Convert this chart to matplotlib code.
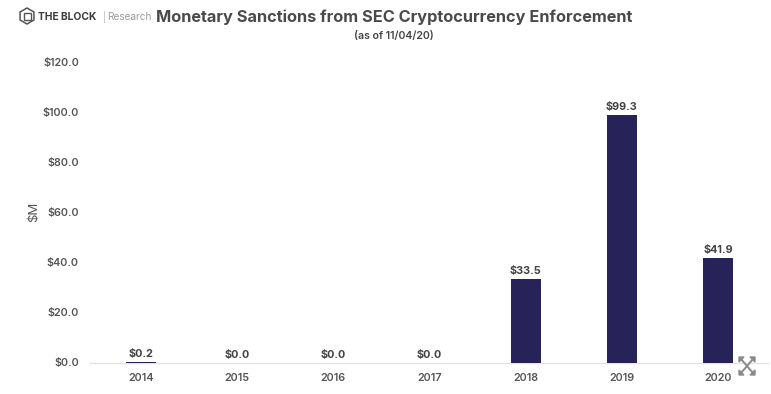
import numpy as np
import matplotlib
matplotlib.use('Agg')
import matplotlib.pyplot as plt
from matplotlib.lines import Line2D
from matplotlib.patches import RegularPolygon, Rectangle
from matplotlib.transforms import ScaledTranslation

ar_st_years = ['2014', '2015', '2016', '2017', '2018', '2019', '2020']
ar_fl_sanctions = [0.2, 0.0, 0.0, 0.0, 33.5, 99.3, 41.9]
ar_fl_yticks = [0, 20, 40, 60, 80, 100, 120]

plt.rcParams['font.family'] = ['Inter', 'DejaVu Sans']

W, H = 771, 394
fig = plt.figure(figsize=(W / 100, H / 100), dpi=100, facecolor='white')
ax = fig.add_axes([90 / W, 1 - 362.6 / H, (768 - 90) / W, 299.6 / H])

ar_it_x = np.arange(len(ar_st_years))
bars = ax.bar(ar_it_x, ar_fl_sanctions, width=0.31, color='#272257', zorder=3)
for x, v in zip(ar_it_x, ar_fl_sanctions):
    ax.text(x, v + 1.2, f'${v:.1f}', ha='center', va='bottom',
            fontsize=7.8, fontweight='bold', color='#444444')

# Axes
ax.set_xlim(-0.53, 6.52)
ax.set_ylim(0, 120)
ax.set_xticks(ar_it_x)
ax.set_xticklabels(ar_st_years, fontsize=7.8, fontweight='semibold', color='#555555')
ax.set_yticks(ar_fl_yticks)
ax.set_yticklabels([f'${v:.1f}' for v in ar_fl_yticks], fontsize=7.8,
                   fontweight='semibold', color='#555555')
ax.tick_params(axis='both', length=0)
ax.tick_params(axis='x', pad=7.3)
ax.tick_params(axis='y', pad=8)
# Tick labels sit one pixel above the bar scale
tr_up = ScaledTranslation(0, 1 / 100, fig.dpi_scale_trans)
for lbl in ax.get_yticklabels():
    lbl.set_transform(lbl.get_transform() + tr_up)
for st_side in ['top', 'right', 'left']:
    ax.spines[st_side].set_visible(False)
ax.spines['bottom'].set_color('#e4e4e4')
ax.spines['bottom'].set_linewidth(1)
fig.text(34.5 / W, 1 - 212 / H, '$M', rotation=90, ha='center', va='center',
         fontsize=9.5, color='#555555')

# Title block
fig.text(156 / W, 1 - 17 / H, 'Monetary Sanctions from SEC Cryptocurrency Enforcement',
         ha='left', va='center', fontsize=11.75, fontweight='bold', color='#4a4a4a')
fig.text(394 / W, 1 - 36 / H, '(as of 11/04/20)', ha='center', va='center',
         fontsize=7.6, fontweight='semibold', color='#444444')
fig.text(38 / W, 1 - 16.5 / H, 'THE BLOCK', ha='left', va='center',
         fontsize=7.4, fontweight='bold', color='#3c3c3c')
fig.text(107 / W, 1 - 16.5 / H, 'Research', ha='left', va='center',
         fontsize=7.2, color='#9a9a9a')
fig.add_artist(Line2D([104 / W, 104 / W], [1 - 11 / H, 1 - 22 / H], color='#cccccc', lw=0.8))

# Logo, drawn in pixel coordinates
tr_px = matplotlib.transforms.Affine2D().scale(1, -1).translate(0, H) + \
    matplotlib.transforms.Affine2D().scale(1 / W, 1 / H) + fig.transFigure
fig.add_artist(RegularPolygon((27, 16), 6, radius=8, fill=False, ec='#555555', lw=1.1,
                              transform=tr_px))
fig.add_artist(Rectangle((23.5, 12.5), 7, 7, fill=False, ec='#555555', lw=1, transform=tr_px))

# Expand icon
for x0, y0, x1, y1 in [(741, 359, 753, 373), (753, 359, 741, 373)]:
    fig.add_artist(Line2D([x0, x1], [y0, y1], color='#8a8a8a', lw=1.4, transform=tr_px))
for cx, cy, sx, sy in [(739, 357, 1, 1), (755, 357, -1, 1), (739, 375, 1, -1), (755, 375, -1, -1)]:
    fig.add_artist(plt.Polygon([[cx, cy], [cx + 5 * sx, cy], [cx, cy + 5 * sy]],
                               closed=True, color='#8a8a8a', transform=tr_px))

fig.savefig('out.png', dpi=100)
